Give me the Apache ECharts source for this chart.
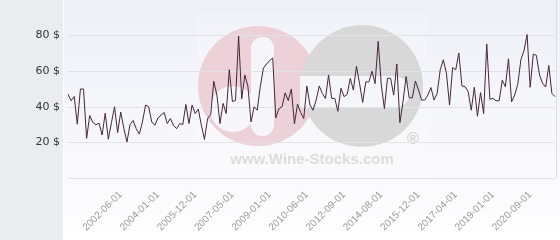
<!DOCTYPE html>
<html>
<head>
<meta charset="utf-8">
<script src="https://cdn.jsdelivr.net/npm/echarts@6/dist/echarts.min.js"></script>
<style>
html,body{margin:0;padding:0;background:#fff;}
#chart{width:560px;height:240px;}
</style>
</head>
<body>
<div id="chart"></div>
<script>
const dates = [
'2000-11-01','2000-12-01','2001-01-01','2001-02-01','2001-03-01','2001-04-01','2001-05-01','2001-06-01','2001-07-01','2001-09-01',
'2001-10-01','2001-11-01','2001-12-01','2002-01-01','2002-02-01','2002-03-01','2002-04-01','2002-06-01','2002-07-01','2002-09-01',
'2002-10-01','2002-12-01','2003-01-01','2003-03-01','2003-04-01','2003-06-01','2003-07-01','2003-09-01','2003-11-01','2004-01-01',
'2004-03-01','2004-05-01','2004-07-01','2004-09-01','2004-11-01','2005-01-01','2005-03-01','2005-05-01','2005-07-01','2005-09-01',
'2005-10-01','2005-12-01','2006-01-01','2006-03-01','2006-04-01','2006-06-01','2006-07-01','2006-09-01','2006-10-01','2006-12-01',
'2007-01-01','2007-02-01','2007-04-01','2007-05-01','2007-07-01','2007-08-01','2007-10-01','2007-12-01','2008-01-01','2008-03-01',
'2008-05-01','2008-06-01','2008-08-01','2008-10-01','2008-11-01','2009-01-01','2009-02-01','2009-04-01','2009-05-01','2009-07-01',
'2009-08-01','2009-09-01','2009-11-01','2009-12-01','2010-01-01','2010-03-01','2010-04-01','2010-06-01','2010-08-01','2010-11-01',
'2011-01-01','2011-03-01','2011-06-01','2011-08-01','2011-10-01','2012-01-01','2012-03-01','2012-05-01','2012-07-01','2012-09-01',
'2012-11-01','2013-01-01','2013-03-01','2013-05-01','2013-07-01','2013-09-01','2013-11-01','2014-01-01','2014-03-01','2014-04-01',
'2014-06-01','2014-08-01','2014-09-01','2014-10-01','2014-12-01','2015-01-01','2015-02-01','2015-04-01','2015-05-01','2015-06-01',
'2015-08-01','2015-09-01','2015-10-01','2015-12-01','2016-01-01','2016-02-01','2016-04-01','2016-05-01','2016-06-01','2016-08-01',
'2016-09-01','2016-10-01','2016-12-01','2017-01-01','2017-02-01','2017-04-01','2017-06-01','2017-07-01','2017-09-01','2017-11-01',
'2017-12-01','2018-02-01','2018-04-01','2018-05-01','2018-07-01','2018-09-01','2018-11-01','2019-01-01','2019-03-01','2019-04-01',
'2019-06-01','2019-08-01','2019-09-01','2019-11-01','2020-01-01','2020-02-01','2020-04-01','2020-06-01','2020-07-01','2020-09-01',
'2020-11-01','2021-01-01','2021-02-01','2021-04-01','2021-06-01','2021-07-01','2021-09-01','2021-11-01'
];
const prices = [
47,43.4,45.8,30.2,50,50,22.3,35.1,31.2,29.9,
30.8,24.2,36.4,21.8,31,40,25.5,37,28,20.2,
30,32.3,27.7,24.7,31.5,41,40,31.5,29.6,33.8,
35.3,36.8,30.6,33.4,29.6,27.7,30.6,30,41.3,30.6,
41,36.2,38.7,29.6,21.7,33.4,35.7,54.3,46.6,30.6,
41.9,36.2,60.8,43,43.5,79.8,44.5,57.9,51.5,31.5,
40,38.1,51.5,61.7,64,66,67.4,33.8,39,40,
47.8,43.5,50,30.5,41.5,36.8,33.4,51.7,41,38.1,
43.8,51.7,47.5,44.7,57.9,44.7,44.7,37.5,50.4,45.7,
47,56,49.4,62.8,53,42.5,54,54,60,53,
76.8,52.3,39,56,56,46.6,64,31.1,42.8,57,
45,45,54.5,49.4,43.8,43.8,46.6,50.8,43.8,47.5,
60.8,66.4,58.9,41,62,60.8,70.2,51.7,51.3,48.5,
38.1,51,34.7,48,36.2,75.3,44.3,44.7,43.4,43.4,
55,51.3,67,42.8,46.6,52.6,66.4,71.5,80.6,51,
69.6,68.9,57.9,53.2,51.1,63.2,47.5,45.7
];
const tickLabels = ['2002-06-01','2004-01-01','2005-12-01','2007-05-01','2009-01-01','2010-06-01',
'2012-09-01','2014-08-01','2015-12-01','2017-04-01','2019-01-01','2020-09-01'];
const yTicks = [0,20,40,60,80,100];

const chart = echarts.init(document.getElementById('chart'), null, {renderer:'canvas'});
const grid = '#e1e1e6';
chart.setOption({
  animation:false,
  backgroundColor:'#ffffff',
  graphic:{elements:[
    {type:'rect',z:-10,shape:{x:0,y:0,width:63,height:240},style:{fill:'#e9edf0'}},
    {type:'rect',z:-10,shape:{x:64,y:0,width:496,height:240},style:{fill:new echarts.graphic.LinearGradient(0,0,0,1,[{offset:0,color:'#eff0f7'},{offset:0.75,color:'#fafafd'},{offset:1,color:'#ffffff'}])}},
    {type:'rect',z:-9,shape:{x:197,y:14,width:230,height:164},style:{fill:'rgba(255,255,255,0.15)'}},
    {type:'circle',z:-8,shape:{cx:258,cy:86,r:60},style:{fill:'#ecd1d8'}},
    {type:'circle',z:-7,shape:{cx:233,cy:109,r:23},style:{fill:'#f7f7fb'}},
    {type:'rect',z:-7,shape:{x:251,y:37,width:23,height:99,r:11},style:{fill:'#f5f5fa'}},
    {type:'circle',z:-6,shape:{cx:362,cy:86,r:61},style:{fill:'#d8d8d8'}},
    {type:'rect',z:-5,shape:{x:300,y:76,width:110,height:32,r:[0,16,16,0]},style:{fill:'#f5f6fa'}},
    {type:'text',z:-5,x:413,y:140,style:{text:'®',fill:'#d2d2d2',font:'bold 16px "Liberation Sans", Arial, sans-serif',align:'center',verticalAlign:'middle'}},
    {type:'text',z:-5,x:312,y:160,style:{text:'www.Wine-Stocks.com',fill:'#dcdcdc',font:'bold 15px "Liberation Sans", Arial, sans-serif',align:'center',verticalAlign:'middle'}},
    {type:'line',z:-5,shape:{x1:556.5,y1:0,x2:556.5,y2:178},style:{stroke:'#dcdce2',lineWidth:1}}
  ]},
  grid:{left:68,right:5,top:0,bottom:62},
  xAxis:{
    type:'category',
    data:dates,
    boundaryGap:false,
    axisLine:{show:false},
    axisTick:{show:false},
    splitLine:{show:false},
    axisLabel:{
      rotate:45,
      margin:15,
      color:'#9a9a9a',
      fontSize:10,
      fontFamily:'"Liberation Sans", Arial, sans-serif',
      interval:function(idx,val){return tickLabels.indexOf(val)>=0;}
    }
  },
  yAxis:{
    type:'value',
    min:yTicks[0],
    max:yTicks[yTicks.length-1],
    interval:yTicks[1]-yTicks[0],
    axisLine:{show:false},
    axisTick:{show:false},
    splitLine:{show:true,lineStyle:{color:yTicks.map(function(v,i){return i===yTicks.length-1?'rgba(0,0,0,0)':grid;}),width:1}},
    axisLabel:{
      showMinLabel:false,
      showMaxLabel:false,
      margin:8,
      color:'#333',
      fontSize:11,
      fontFamily:'"DejaVu Sans", sans-serif',
      formatter:function(v){return v+' $';}
    }
  },
  series:[{
    type:'line',
    data:prices,
    showSymbol:false,
    symbol:'none',
    lineStyle:{color:'#44263a',width:1},
    itemStyle:{color:'#44263a'}
  }]
});
</script>
</body>
</html>
